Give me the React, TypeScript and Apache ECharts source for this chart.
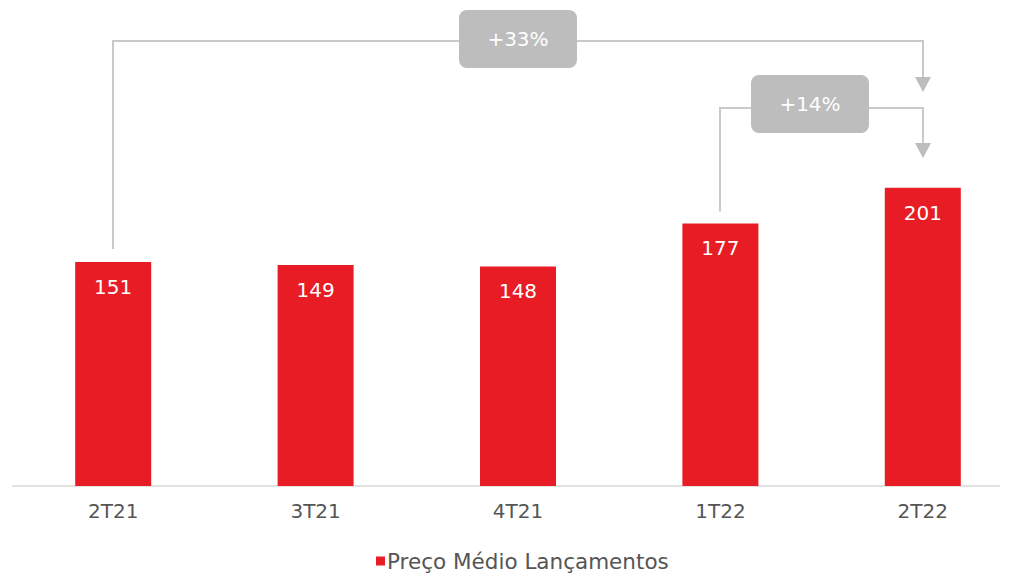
import React, { useEffect, useRef } from "react";
import * as echarts from "echarts";

const categories = ["2T21", "3T21", "4T21", "1T22", "2T22"];
const values = [151, 149, 148, 177, 201];
const seriesName = "Preço Médio Lançamentos";
const growthLabels = ["+33%", "+14%"];

const RED = "#e81c24";
const GRAY_LINE = "#c9c9c9";
const GRAY_BOX = "#bdbdbd";
const FONT = "'DejaVu Sans', 'Noto Sans', sans-serif";

export default function App() {
  const ref = useRef<HTMLDivElement>(null);
  useEffect(() => {
    if (!ref.current) return;
    const chart = echarts.init(ref.current, null, { renderer: "svg" });
    chart.setOption({
      animation: false,
      backgroundColor: "#ffffff",
      textStyle: { fontFamily: FONT },
      grid: {
        left: 12,
        top: 41,
        right: -13,
        height: 445,
        containLabel: false,
        outerBoundsMode: "none",
      },
      legend: {
        data: [seriesName],
        left: 371,
        top: 545,
        icon: "rect",
        itemWidth: 9,
        itemHeight: 9,
        itemGap: 6,
        textStyle: { color: "#555555", fontSize: 21.5, fontFamily: FONT, padding: [0, 0, 0, -3] },
      },
      xAxis: {
        type: "category",
        data: categories,
        axisLine: { show: false },
        axisTick: { show: false },
        axisLabel: { color: "#555555", fontSize: 20, margin: 15, fontFamily: FONT },
      },
      yAxis: {
        type: "value",
        min: 0,
        max: 300,
        show: false,
        splitLine: { show: false },
      },
      series: [
        {
          name: seriesName,
          type: "bar",
          data: values,
          barWidth: 76,
          itemStyle: { color: RED },
          label: {
            show: true,
            position: "insideTop",
            distance: 15,
            color: "#ffffff",
            fontSize: 20,
            fontFamily: FONT,
          },
        },
      ],
    });

    const px = (i: number, v: number) => chart.convertToPixel({ gridIndex: 0 }, [i, v]) as number[];
    const p0 = px(0, values[0]);
    const p3 = px(3, values[3]);
    const p4 = px(4, values[4]);
    const x0 = Math.round(p0[0]);
    const x3 = Math.round(p3[0]);
    const x4 = Math.round(p4[0]);
    const lineStyle = { stroke: GRAY_LINE, lineWidth: 2, fill: "none" };
    const arrow = (x: number, yTop: number) => ({
      type: "polygon",
      shape: { points: [[x - 8, yTop], [x + 8, yTop], [x, yTop + 15]] },
      style: { fill: GRAY_BOX },
    });
    const box = (cx: number, cy: number, text: string) => ({
      type: "group",
      children: [
        {
          type: "rect",
          shape: { x: cx - 59, y: cy - 29, width: 118, height: 58, r: 8 },
          style: { fill: GRAY_BOX },
        },
        {
          type: "text",
          x: cx,
          y: cy,
          style: {
            text,
            fill: "#ffffff",
            font: `20px ${FONT}`,
            align: "center",
            verticalAlign: "middle",
          },
        },
      ],
    });

    chart.setOption({
      graphic: [
        {
          type: "line",
          shape: { x1: 12, y1: 486, x2: 1000, y2: 486 },
          style: { stroke: "#d9d9d9", lineWidth: 1.5 },
        },
        {
          type: "polyline",
          shape: { points: [[x0, p0[1] - 13], [x0, 41], [x4, 41], [x4, 78]] },
          style: lineStyle,
        },
        arrow(x4, 77),
        box(518, 39, growthLabels[0]),
        {
          type: "polyline",
          shape: { points: [[x3, p3[1] - 12], [x3, 108], [x4, 108], [x4, 144]] },
          style: lineStyle,
        },
        arrow(x4, 143),
        box(810, 104, growthLabels[1]),
      ],
    });

    return () => chart.dispose();
  }, []);
  return (
    <div
      ref={ref}
      style={{ position: "fixed", left: 0, top: 0, width: 1011, height: 577 }}
    />
  );
}
